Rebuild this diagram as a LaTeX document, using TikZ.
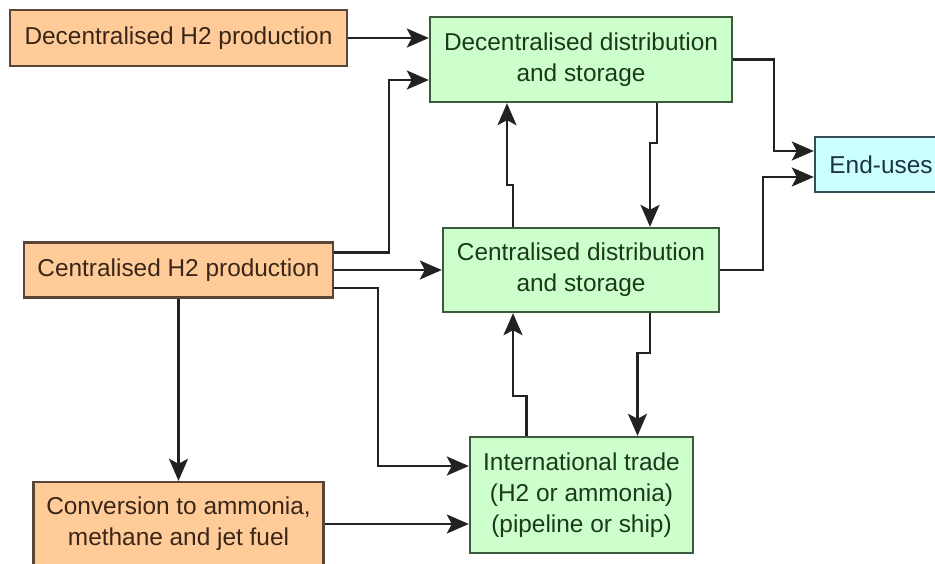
\documentclass[tikz,border=0pt]{standalone}
\usepackage{fontspec}
\setmainfont{Liberation Sans}
\usepackage{tikz}
\usetikzlibrary{arrows.meta,positioning}
\definecolor{prodfill}{HTML}{FFCC99}
\definecolor{prodline}{HTML}{5A4636}
\definecolor{prodtext}{HTML}{3A2618}
\definecolor{distfill}{HTML}{CCFFCC}
\definecolor{distline}{HTML}{3E5A3E}
\definecolor{disttext}{HTML}{1B3A1B}
\definecolor{usefill}{HTML}{CCFFFF}
\definecolor{useline}{HTML}{3A4E58}
\definecolor{usetext}{HTML}{1C3444}
\definecolor{flowline}{HTML}{222222}
\newcommand\boxfont{\fontsize{24.4}{31}\selectfont}

\begin{document}
\begin{tikzpicture}[x=1pt,y=-1pt,
  prodbox/.style={draw=prodline,fill=prodfill,text=prodtext},
  distbox/.style={draw=distline,fill=distfill,text=disttext},
  usebox/.style={draw=useline,fill=usefill,text=usetext},
  flow/.style={draw=flowline,line width=2.4pt,-{Stealth[length=22pt,width=19pt,inset=5pt]}}]%
\useasboundingbox (0,0) rectangle (935,563);%
\begin{scope}[shape=rectangle,inner sep=0pt,line width=2.4pt,align=center,font=\boxfont]%
\tikzstyle{every node}=[prodbox] %%
\node[minimum width=337,minimum height=56] (decprod) at (178.5,38)  {Decentralised H2 production}; %%
\node[minimum width=309,minimum height=55] (cenprod) at (178.5,270)  {Centralised H2 production}; %%
\node[minimum width=290,minimum height=84] (conv) at (178.5,524)  {Conversion to ammonia,\\methane and jet fuel}; %%
\end{scope}
\begin{scope}[shape=rectangle,inner sep=0pt,line width=2.4pt,align=center,font=\boxfont]%
\tikzstyle{every node}=[distbox] %%
\node[minimum width=302,minimum height=85] (decdist) at (581,59.5)  {Decentralised distribution\\and storage}; %%
\node[minimum width=276,minimum height=84] (cendist) at (581,270)  {Centralised distribution\\and storage}; %%
\node[minimum width=223,minimum height=116] (trade) at (581.5,495)  {International trade\\(H2 or ammonia)\\(pipeline or ship)}; %%
\end{scope}
\begin{scope}[shape=rectangle,inner sep=0pt,line width=2.4pt,font=\boxfont]%
\tikzstyle{every node}=[usebox] %%
\node[minimum width=132,minimum height=55] (enduse) at (881,164.5)  {End-uses}; %%
\end{scope}

\draw[flow] (decprod.east)--(decprod.east -| decdist.west); %%
\draw[flow] ([yshift=17.5pt]cenprod.east)--++(55,0) |- ([yshift=-20.5pt]decdist.west); %%
\draw[flow] (cenprod.east)--(cendist.west); %%
\draw[flow] ([yshift=-18pt]cenprod.east)--++(44,0) |- ([yshift=29pt]trade.west); %%
\draw[flow] (cenprod.south)--(conv.north); %%
\draw[flow] (conv.east)--(conv.east -| trade.west); %%

\draw[flow] ([xshift=-68pt]cendist.north)--++(0,-42) -| ([xshift=-74pt]decdist.south); %%
\draw[flow] ([xshift=76pt]decdist.south)--++(0,40) -| ([xshift=69pt]cendist.north); %%
\draw[flow] ([xshift=-55pt]trade.north)--++(0,-40) -| ([xshift=-68pt]cendist.south); %%
\draw[flow] ([xshift=69pt]cendist.south)--++(0,40) -| ([xshift=56pt]trade.north); %%

\draw[flow] (decdist.east)--++(41,0) |- ([yshift=13.5pt]enduse.west); %%
\draw[flow] (cendist.east)--++(43,0) |- ([yshift=-12.5pt]enduse.west); %%

\end{tikzpicture}
\end{document}
